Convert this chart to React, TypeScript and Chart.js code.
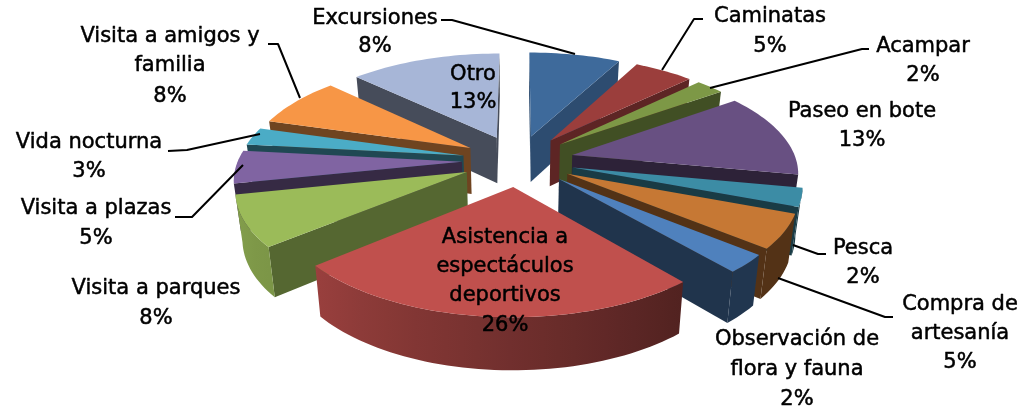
import React, { useEffect, useRef } from "react";
import { Chart, registerables } from "chart.js";

Chart.register(...registerables);

const categories = [
  "Excursiones", "Caminatas", "Acampar", "Paseo en bote", "Pesca", "Compra de artesanía",
  "Observación de flora y fauna", "Asistencia a espectáculos deportivos", "Visita a parques",
  "Visita a plazas", "Vida nocturna", "Visita a amigos y familia", "Otro",
];
// Shares (the drawn angles); printed percentages are in the label lines.
const shares = [7.7, 5.0, 2.4, 12.9, 2.8, 5.2, 2.75, 25.15, 7.8, 5.05, 2.75, 7.7, 12.8];
const sliceColors = [
  "rgb(62,106,155)", "rgb(155,62,60)", "rgb(125,152,70)", "rgb(104,80,130)", "rgb(60,140,165)",
  "rgb(198,120,52)", "rgb(79,129,189)", "rgb(192,80,77)", "rgb(155,187,89)", "rgb(128,100,162)",
  "rgb(75,172,198)", "rgb(247,150,70)", "rgb(167,182,215)",
];
const sideShades = [0.72, 0.6, 0.52, 0.43, 0.42, 0.42, 0.4, 0.5, 0.55, 0.42, 0.42, 0.45, 0.42];

const labelLayout: { lines: string[]; x: number; ys: number[] }[] = [
  { lines: ["Excursiones", "8%"], x: 375, ys: [19, 47] },
  { lines: ["Caminatas", "5%"], x: 770, ys: [17, 47] },
  { lines: ["Acampar", "2%"], x: 923, ys: [47, 76] },
  { lines: ["Paseo en bote", "13%"], x: 862, ys: [112, 141] },
  { lines: ["Pesca", "2%"], x: 863, ys: [249, 278] },
  { lines: ["Compra de", "artesanía", "5%"], x: 960, ys: [305, 334, 363] },
  { lines: ["Observación de", "flora y fauna", "2%"], x: 797, ys: [340, 370, 400] },
  { lines: ["Asistencia a", "espectáculos", "deportivos", "26%"], x: 505, ys: [238, 267, 296, 326] },
  { lines: ["Visita a parques", "8%"], x: 156, ys: [289, 319] },
  { lines: ["Visita a plazas", "5%"], x: 96, ys: [209, 239] },
  { lines: ["Vida nocturna", "3%"], x: 89, ys: [143, 172] },
  { lines: ["Visita a amigos y", "familia", "8%"], x: 170, ys: [37, 66, 97] },
  { lines: ["Otro", "13%"], x: 473, ys: [75, 103] },
];
const leaderLines: number[][][] = [
  [[441, 20], [452, 20], [575, 54]],
  [[703, 19], [694, 19], [662, 70]],
  [[710, 88], [862, 49], [869, 49]],
  [[793, 245], [818, 254], [826, 254]],
  [[778, 278], [885, 317], [893, 317]],
  [[168, 151], [187, 150], [260, 134]],
  [[175, 217], [192, 217], [243, 165]],
  [[268, 44], [278, 44], [300, 98]],
];

// 3-D view of the pie plane
const EXPLODE = 0.25;
const TILT = 0.458;
const PERSPECTIVE = 0.146;
const DEPTH = 46.6;
const FLOOR_SHRINK = 0.975;
const FONT = '21px "DejaVu Sans", sans-serif';

function rimShade(deg: number) {
  if (deg <= 140) return 0.42;
  if (deg <= 230) return 0.42 + ((deg - 140) / 90) * 0.38;
  return 0.8 + (Math.min(deg - 230, 40) / 40) * 0.08;
}
function shadeColor(color: string, k: number) {
  const m = color.match(/\d+/g)!.map(Number);
  return `rgb(${Math.round(m[0] * k)},${Math.round(m[1] * k)},${Math.round(m[2] * k)})`;
}

const pie3dPlugin = {
  id: "pie3d",
  beforeDatasetDraw(chart: any, args: any) {
    const ctx: CanvasRenderingContext2D = chart.ctx;
    const arcs = chart.getDatasetMeta(args.index).data as any[];
    const order = arcs
      .map((arc, i) => ({ arc, i, mid: (arc.startAngle + arc.endAngle) / 2 }))
      .sort((a, b) => Math.sin(a.mid) - Math.sin(b.mid));

    for (const { arc, i, mid } of order) {
      const { x, y, startAngle, endAngle, outerRadius } = arc;
      const w = outerRadius;
      const t = outerRadius * TILT;
      const project = (X: number, Y: number) => {
        const s = 1 / (1 - PERSPECTIVE * Y);
        const px = x + w * X * s;
        const py = y + t * Y * s;
        return {
          x: px,
          y: py,
          bx: x + (px - x) * FLOOR_SHRINK,
          by: y + (py - y) * FLOOR_SHRINK + DEPTH * s,
        };
      };
      const ax = EXPLODE * Math.cos(mid);
      const ay = EXPLODE * Math.sin(mid);
      const apex = project(ax, ay);
      const steps = Math.max(6, Math.ceil((endAngle - startAngle) / 0.03));
      const rim: any[] = [];
      for (let k = 0; k <= steps; k++) {
        const a = startAngle + ((endAngle - startAngle) * k) / steps;
        rim.push({ ...project(ax + Math.cos(a), ay + Math.sin(a)), a });
      }
      const color = arc.options.backgroundColor as string;
      const side = shadeColor(color, sideShades[i]);

      const sideWall = (p: any, q: any) => {
        ctx.beginPath();
        ctx.moveTo(p.x, p.y);
        ctx.lineTo(q.x, q.y);
        ctx.lineTo(q.bx, q.by);
        ctx.lineTo(p.bx, p.by);
        ctx.closePath();
        ctx.fillStyle = side;
        ctx.fill();
      };
      const first = rim[0];
      const last = rim[rim.length - 1];
      if (first.x < apex.x) sideWall(apex, first);
      if (apex.x < last.x) sideWall(last, apex);

      const visible: any[] = [];
      for (let k = 0; k < rim.length; k++) {
        const dx = k < rim.length - 1 ? rim[k + 1].x - rim[k].x : rim[k].x - rim[k - 1].x;
        if (dx < 0) visible.push(rim[k]);
      }
      if (visible.length > 1) {
        const x0 = visible[0].x;
        const x1 = visible[visible.length - 1].x;
        const grad = ctx.createLinearGradient(x0, 0, x1, 0);
        const deg = (a: number) => (((a + Math.PI / 2) * 180) / Math.PI + 360) % 360;
        visible.forEach((p, k) => {
          if (k % 4 === 0 || k === visible.length - 1) {
            grad.addColorStop((p.x - x0) / (x1 - x0 || 1), shadeColor(color, rimShade(deg(p.a))));
          }
        });
        ctx.beginPath();
        visible.forEach((p, k) => (k ? ctx.lineTo(p.x, p.y) : ctx.moveTo(p.x, p.y)));
        for (let k = visible.length - 1; k >= 0; k--) ctx.lineTo(visible[k].bx, visible[k].by);
        ctx.closePath();
        ctx.fillStyle = grad;
        ctx.fill();
      }

      ctx.beginPath();
      ctx.moveTo(apex.x, apex.y);
      rim.forEach((p) => ctx.lineTo(p.x, p.y));
      ctx.closePath();
      ctx.fillStyle = color;
      ctx.fill();
    }
    return false;
  },
  afterDatasetsDraw(chart: any) {
    const ctx: CanvasRenderingContext2D = chart.ctx;
    ctx.save();
    ctx.strokeStyle = "#000";
    ctx.lineWidth = 2;
    ctx.lineJoin = "round";
    for (const line of leaderLines) {
      ctx.beginPath();
      line.forEach(([px, py], k) => (k ? ctx.lineTo(px, py) : ctx.moveTo(px, py)));
      ctx.stroke();
    }
    ctx.fillStyle = "#000";
    ctx.lineWidth = 0.5;
    ctx.font = FONT;
    ctx.textAlign = "center";
    ctx.textBaseline = "middle";
    for (const l of labelLayout) {
      l.lines.forEach((text, k) => {
        ctx.fillText(text, l.x, l.ys[k]);
        ctx.strokeText(text, l.x, l.ys[k]);
      });
    }
    ctx.restore();
  },
};

export default function App() {
  const ref = useRef<HTMLCanvasElement>(null);
  useEffect(() => {
    const chart = new Chart(ref.current!, {
      type: "pie",
      data: {
        labels: categories,
        datasets: [{ data: shares, backgroundColor: sliceColors, borderWidth: 0 }],
      },
      options: {
        animation: false,
        responsive: false,
        radius: 224,
        layout: { padding: { left: 7, bottom: 92 } },
        plugins: { legend: { display: false }, tooltip: { enabled: false } },
      } as any,
      plugins: [pie3dPlugin as any],
    });
    return () => chart.destroy();
  }, []);
  return (
    <div style={{ position: "fixed", left: 0, top: 0, width: 1029, height: 413, background: "#fff" }}>
      <canvas ref={ref} width={1029} height={413} style={{ display: "block" }} />
    </div>
  );
}
